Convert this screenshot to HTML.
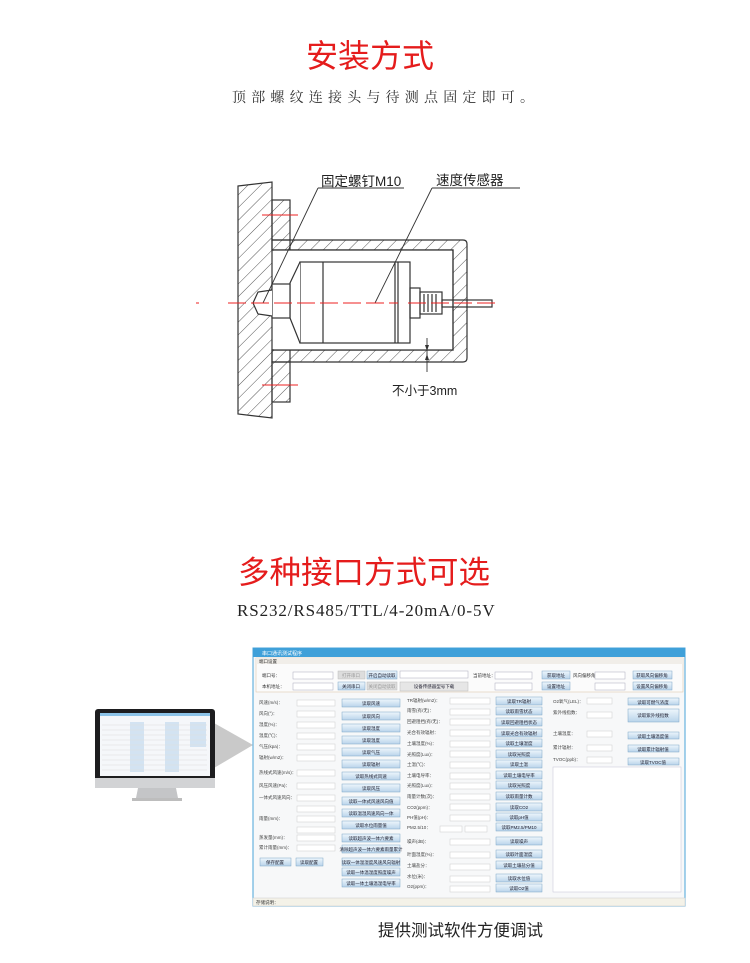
<!DOCTYPE html>
<html><head><meta charset="utf-8"><style>
html,body{margin:0;padding:0;background:#fff;width:750px;height:963px;overflow:hidden;position:relative}
.t{position:absolute;white-space:nowrap;font-family:"Liberation Sans","Noto Sans CJK SC",sans-serif}
</style></head><body>
<div class="t" style="left:0;width:740px;text-align:center;top:36px;font-size:32px;color:#e51c1c;line-height:40px">安装方式</div>
<div class="t" style="left:232px;top:89px;font-size:14px;letter-spacing:5.2px;color:#333;font-family:'Liberation Serif','Noto Serif CJK SC',serif;line-height:20px">顶部螺纹连接头与待测点固定即可。</div>

<svg style="position:absolute;left:0;top:0" width="750" height="963" xmlns="http://www.w3.org/2000/svg">
<defs>
<pattern id="h" width="9" height="9" patternUnits="userSpaceOnUse" patternTransform="rotate(45)"><line x1="0" y1="0" x2="0" y2="9" stroke="#444" stroke-width="0.9"/></pattern>
<linearGradient id="bg" x1="0" y1="0" x2="0" y2="1"><stop offset="0" stop-color="#eef6fc"/><stop offset="1" stop-color="#b9d4ea"/></linearGradient>
</defs>
<g stroke="#333" stroke-width="1.2" fill="none">
<path d="M238 186 L272 182 L272 418 L238 414 Z" fill="url(#h)"/>
<rect x="272" y="200" width="18" height="40" fill="url(#h)"/>
<rect x="272" y="362" width="18" height="40" fill="url(#h)"/>
<path d="M272 240 L463 240 Q467 240 467 244 L467 358 Q467 362 463 362 L272 362 L272 350 L453 350 L453 250 L272 250 Z" fill="url(#h)"/>
<rect x="274" y="250" width="178" height="100" fill="#fff" stroke="none"/>
<path d="M272 250 L453 250 L453 350 L272 350"/>
<path d="M290 240 L290 250 M290 350 L290 362"/>
<rect x="300" y="262" width="110" height="81" fill="#fff"/>
<line x1="323" y1="262" x2="323" y2="343"/>
<line x1="395" y1="262" x2="395" y2="343"/>
<line x1="398" y1="262" x2="398" y2="343"/>
<path d="M300 262 L290 283 L290 318 L300 343" fill="#fff"/>
<rect x="272" y="284" width="18" height="34" fill="#fff"/>
<path d="M272 290 L258 292 L253 303 L258 314 L272 316" fill="#fff"/>
<rect x="410" y="288" width="10" height="30"/>
<rect x="420" y="292" width="22" height="22"/>
<path d="M424 294 v18 M428 294 v18 M432 294 v18 M436 294 v18"/>
<rect x="442" y="300" width="50" height="7"/>
<path d="M318 188 L404 188 M318 188 L263 303" stroke-width="0.9"/>
<path d="M432 188 L520 188 M432 188 L375 303" stroke-width="0.9"/>
<path d="M427 338 L427 372" stroke-width="0.9"/>
</g>
<polygon points="425,345 429,345 427,351" fill="#333"/>
<polygon points="425,360 429,360 427,354" fill="#333"/>
<g stroke="#e22" stroke-width="1">
<path d="M196 303 h3 M228 303 h170 M408 303 h90" stroke-dasharray="18 5"/>
<line x1="262" y1="215" x2="298" y2="215"/>
<line x1="262" y1="385" x2="298" y2="385"/>
</g>
<text x="321" y="186" font-size="13.5" font-family="Liberation Sans,Noto Sans CJK SC,sans-serif" fill="#222">固定螺钉M10</text>
<text x="436" y="185" font-size="13.5" font-family="Liberation Sans,Noto Sans CJK SC,sans-serif" fill="#222">速度传感器</text>
<text x="392" y="395" font-size="12.5" font-family="Liberation Sans,Noto Sans CJK SC,sans-serif" fill="#222">不小于3mm</text>

<polygon points="214,723 253,745 214,768" fill="#c9c9c9"/>
<rect x="95" y="709" width="120" height="78" rx="3" fill="#1d1d1f"/>
<rect x="95" y="778" width="120" height="10" fill="#d2d3d5"/>
<rect x="100" y="713" width="110" height="63" fill="#f5f7fa"/>
<g fill="#d3e3f2"><rect x="130" y="722" width="14" height="50"/><rect x="165" y="722" width="14" height="50"/><rect x="190" y="722" width="16" height="25"/></g>
<rect x="100" y="713" width="110" height="3" fill="#8cc3e8"/>
<g stroke="#ddd" stroke-width="0.5"><path d="M102 725h105M102 730h105M102 735h105M102 740h105M102 745h105M102 750h105M102 755h105M102 760h105M102 765h105M102 770h105"/></g>
<path d="M138 788 L176 788 L178 798 L136 798 Z" fill="#c4c5c7"/>
<rect x="132" y="798" width="50" height="3" fill="#bdbdbd"/>

<rect x="253" y="648" width="432" height="258" fill="#f7f8f9" stroke="#4aa3d8" stroke-width="1"/>
<rect x="253" y="648" width="432" height="9" fill="#3fa0d9"/>
<text x="262" y="655" font-size="5" fill="#fff" font-family="Liberation Sans,Noto Sans CJK SC,sans-serif">串口通讯测试程序</text>
<rect x="256" y="658" width="427" height="34" fill="#fbfbfb" stroke="#e0c9b0" stroke-width="0.6"/>
<rect x="256" y="658" width="427" height="6" fill="#f1eee9"/>
<rect x="253" y="898" width="432" height="8" fill="#f4f2e8" stroke="#ccc" stroke-width="0.5"/>
<rect x="553" y="767" width="128" height="125" fill="#fff" stroke="#ccd" stroke-width="0.6"/>
<g font-size="4.5" fill="#333" font-family="Liberation Sans,Noto Sans CJK SC,sans-serif">
<text x="259" y="663">端口设置</text><text x="256" y="904">存储说明：</text>
<text x="262" y="677">端口号：</text><text x="262" y="688">本机地址：</text>
<text x="473" y="677">当前地址：</text><text x="573" y="677">风向偏移角：</text>
</g>
<g fill="#fff" stroke="#aab" stroke-width="0.5">
<rect x="293" y="672" width="40" height="7"/><rect x="293" y="683" width="40" height="7"/>
<rect x="400" y="671" width="68" height="7"/>
<rect x="495" y="672" width="37" height="7"/><rect x="495" y="683" width="37" height="7"/>
<rect x="595" y="672" width="30" height="7"/><rect x="595" y="683" width="30" height="7"/>
</g>
<g fill="#ddd" stroke="#bbb" stroke-width="0.5">
<rect x="338" y="671" width="27" height="8"/><rect x="367" y="682" width="30" height="8"/><rect x="400" y="682" width="68" height="9" fill="#e6e6e6"/>
</g>
<g fill="url(#bg)" stroke="#7fa5c8" stroke-width="0.5">
<rect x="367" y="671" width="30" height="8"/><rect x="338" y="682" width="27" height="8"/>
<rect x="542" y="671" width="28" height="8"/><rect x="542" y="682" width="28" height="8"/>
<rect x="633" y="671" width="39" height="8"/><rect x="633" y="682" width="39" height="8"/>
</g>
<g fill="#fff" stroke="#ccc" stroke-width="0.5">
<rect x="297" y="700" width="38" height="6"/><rect x="297" y="711" width="38" height="6"/><rect x="297" y="722" width="38" height="6"/><rect x="297" y="733" width="38" height="6"/><rect x="297" y="744" width="38" height="6"/><rect x="297" y="755" width="38" height="6"/><rect x="297" y="770" width="38" height="6"/><rect x="297" y="783" width="38" height="6"/><rect x="297" y="795" width="38" height="6"/><rect x="297" y="806" width="38" height="6"/><rect x="297" y="816" width="38" height="6"/><rect x="297" y="827" width="38" height="6"/><rect x="297" y="835" width="38" height="6"/><rect x="297" y="845" width="38" height="6"/>
<rect x="450" y="698" width="40" height="6"/><rect x="450" y="709" width="40" height="6"/><rect x="450" y="719" width="40" height="6"/><rect x="450" y="730" width="40" height="6"/><rect x="450" y="741" width="40" height="6"/><rect x="450" y="751" width="40" height="6"/><rect x="450" y="762" width="40" height="6"/><rect x="450" y="773" width="40" height="6"/><rect x="450" y="783" width="40" height="6"/><rect x="450" y="794" width="40" height="6"/><rect x="450" y="804" width="40" height="6"/><rect x="450" y="815" width="40" height="6"/><rect x="440" y="826" width="22" height="6"/><rect x="465" y="826" width="22" height="6"/><rect x="450" y="839" width="40" height="6"/><rect x="450" y="852" width="40" height="6"/><rect x="450" y="864" width="40" height="6"/><rect x="450" y="876" width="40" height="6"/><rect x="450" y="886" width="40" height="6"/>
<rect x="587" y="698" width="25" height="6"/><rect x="587" y="712" width="25" height="6"/><rect x="587" y="731" width="25" height="6"/><rect x="587" y="745" width="25" height="6"/><rect x="587" y="757" width="25" height="6"/>
</g>
<g fill="url(#bg)" stroke="#7fa5c8" stroke-width="0.5">
<rect x="342" y="699" width="58" height="8"/><rect x="342" y="712" width="58" height="8"/><rect x="342" y="724" width="58" height="8"/><rect x="342" y="736" width="58" height="8"/><rect x="342" y="748" width="58" height="8"/><rect x="342" y="760" width="58" height="8"/><rect x="342" y="772" width="58" height="8"/><rect x="342" y="784" width="58" height="8"/><rect x="342" y="797" width="58" height="8"/><rect x="342" y="809" width="58" height="8"/><rect x="342" y="821" width="58" height="8"/><rect x="342" y="834" width="58" height="8"/><rect x="342" y="845" width="58" height="8"/><rect x="342" y="858" width="58" height="8"/><rect x="342" y="868" width="58" height="8"/><rect x="342" y="879" width="58" height="8"/>
<rect x="260" y="858" width="31" height="8"/><rect x="296" y="858" width="27" height="8"/>
<rect x="496" y="697" width="46" height="8"/><rect x="496" y="707" width="46" height="8"/><rect x="496" y="718" width="46" height="8"/><rect x="496" y="729" width="46" height="8"/><rect x="496" y="739" width="46" height="8"/><rect x="496" y="750" width="46" height="8"/><rect x="496" y="760" width="46" height="8"/><rect x="496" y="771" width="46" height="8"/><rect x="496" y="781" width="46" height="8"/><rect x="496" y="792" width="46" height="8"/><rect x="496" y="803" width="46" height="8"/><rect x="496" y="813" width="46" height="8"/><rect x="496" y="823" width="46" height="8"/><rect x="496" y="837" width="46" height="8"/><rect x="496" y="850" width="46" height="8"/><rect x="496" y="861" width="46" height="8"/><rect x="496" y="874" width="46" height="8"/><rect x="496" y="884" width="46" height="8"/>
<rect x="628" y="698" width="51" height="7"/><rect x="628" y="709" width="51" height="13"/><rect x="628" y="732" width="51" height="7"/><rect x="628" y="745" width="51" height="7"/><rect x="628" y="758" width="51" height="7"/>
</g>
<g font-size="4.5" fill="#444" font-family="Liberation Sans,Noto Sans CJK SC,sans-serif">
<text x="259" y="704">风速(m/s)：</text><text x="259" y="715">风向(°)：</text><text x="259" y="726">湿度(%)：</text><text x="259" y="737">温度(℃)：</text><text x="259" y="748">气压(kpa)：</text><text x="259" y="759">辐射(w/m2)：</text><text x="259" y="774">热线式风速(m/s)：</text><text x="259" y="787">风压风速(Pa)：</text><text x="259" y="799">一体式风速风向：</text><text x="259" y="820">雨量(mm)：</text><text x="259" y="839">蒸发量(mm)：</text><text x="259" y="849">累计雨量(mm)：</text>
<text x="407" y="702">TR辐射(w/m2)：</text><text x="407" y="712">雨雪(有/无)：</text><text x="407" y="723">回避阻挡(有/无)：</text><text x="407" y="734">光合有效辐射：</text><text x="407" y="745">土壤湿度(%)：</text><text x="407" y="756">光照度(Lux)：</text><text x="407" y="766">土温(℃)：</text><text x="407" y="777">土壤电导率：</text><text x="407" y="787">光照度(Lux)：</text><text x="407" y="798">雨量计数(次)：</text><text x="407" y="809">CO2(ppm)：</text><text x="407" y="819">PH值(pH)：</text><text x="407" y="829">PM2.5/10：</text><text x="407" y="843">噪声(dB)：</text><text x="407" y="856">叶面湿度(%)：</text><text x="407" y="867">土壤盐分：</text><text x="407" y="878">水位(米)：</text><text x="407" y="888">O2(ppm)：</text>
<text x="553" y="703">O2氧气(LEL)：</text><text x="553" y="714">紫外线指数：</text><text x="553" y="735">土壤温度：</text><text x="553" y="749">累计辐射：</text><text x="553" y="761">TVOC(ppb)：</text>
</g>
<g font-size="4.5" fill="#223" font-family="Liberation Sans,Noto Sans CJK SC,sans-serif" text-anchor="middle">
<text x="371" y="705">读取风速</text><text x="371" y="718">读取风向</text><text x="371" y="730">读取湿度</text><text x="371" y="742">读取温度</text><text x="371" y="754">读取气压</text><text x="371" y="766">读取辐射</text><text x="371" y="778">读取热线式风速</text><text x="371" y="790">读取风压</text><text x="371" y="803">读取一体式风速风向值</text><text x="371" y="815">读取温湿风速风向一体</text><text x="371" y="827">读取水位雨量值</text><text x="371" y="840">读取超声波一体六要素</text><text x="371" y="851">清除超声波一体六要素雨量累计</text><text x="371" y="864">读取一体温湿度风速风向辐射</text><text x="371" y="874">读取一体温湿度照度噪声</text><text x="371" y="885">读取一体土壤温湿电导率</text>
<text x="519" y="703">读取TR辐射</text><text x="519" y="713">读取雨雪状态</text><text x="519" y="724">读取回避阻挡状态</text><text x="519" y="735">读取光合有效辐射</text><text x="519" y="745">读取土壤湿度</text><text x="519" y="756">读取光照度</text><text x="519" y="766">读取土温</text><text x="519" y="777">读取土壤电导率</text><text x="519" y="787">读取光照度</text><text x="519" y="798">读取雨量计数</text><text x="519" y="809">读取CO2</text><text x="519" y="819">读取pH值</text><text x="519" y="829">读取PM2.5/PM10</text><text x="519" y="843">读取噪声</text><text x="519" y="856">读取叶面湿度</text><text x="519" y="867">读取土壤盐分值</text><text x="519" y="880">读取水位值</text><text x="519" y="890">读取O2值</text>
<text x="653" y="704">读取可燃气浓度</text><text x="653" y="717">读取紫外线指数</text><text x="653" y="738">读取土壤温度值</text><text x="653" y="751">读取累计辐射值</text><text x="653" y="764">读取TVOC值</text>
<text x="275" y="864">保存配置</text><text x="309" y="864">读取配置</text>
<text x="556" y="677">获取地址</text><text x="556" y="688">设置地址</text><text x="652" y="677">获取风向偏移角</text><text x="652" y="688">设置风向偏移角</text>
<text x="382" y="677">开启自动读取</text><text x="351" y="677" fill="#999">打开串口</text><text x="351" y="688">关闭串口</text><text x="382" y="688" fill="#999">关闭自动读取</text><text x="434" y="688">设备传感器型号下载</text>
</g>
</svg>

<div class="t" style="left:238px;top:552px;font-size:31.5px;color:#e51c1c;line-height:40px">多种接口方式可选</div>
<div class="t" style="left:237px;top:601px;font-size:17px;letter-spacing:0.9px;color:#222;font-family:'Liberation Serif',serif;line-height:20px">RS232/RS485/TTL/4-20mA/0-5V</div>
<div class="t" style="left:378px;top:921px;font-size:16.5px;color:#222;line-height:20px">提供测试软件方便调试</div>
</body></html>
